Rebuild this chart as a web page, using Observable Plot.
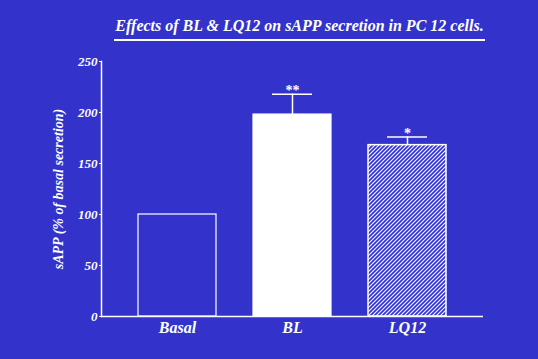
<!DOCTYPE html>
<html><head><meta charset="utf-8">
<script src="https://cdn.jsdelivr.net/npm/d3@7"></script>
<script src="https://cdn.jsdelivr.net/npm/@observablehq/plot@0.6"></script>
<style>
html,body{margin:0;padding:0;background:#3333cc;}
#wrap{position:relative;width:538px;height:359px;overflow:hidden;background:#3333cc;}
#title{position:absolute;left:114px;width:371px;top:15px;text-align:center;color:#fff;font-weight:bold;font-style:italic;font-size:16px;font-family:"Liberation Serif","Times New Roman","DejaVu Serif",serif;border-bottom:2px solid #fff;padding-bottom:3px;line-height:21px;white-space:nowrap}
#chart{position:absolute;left:0;top:0}
#chart svg text{font-family:"Liberation Serif","Times New Roman","DejaVu Serif",serif;}
</style></head><body>
<div id="wrap"><div id="chart"></div><div id="title">Effects of BL &amp; LQ12 on sAPP secretion in PC 12 cells.</div></div>
<script>
const categories = ["Basal", "BL", "LQ12"];
const values = [100, 198, 168];
const errors = [0, 20, 8];
const stars = ["", "**", "*"];
const yTicks = [0, 50, 100, 150, 200, 250];
const yLabel = "sAPP (% of basal secretion)";

const data = categories.map((c, i) => ({category: c, value: values[i], err: errors[i], star: stars[i]}));
const errData = data.filter(d => d.err > 0);
const serif = "'Liberation Serif', 'Times New Roman', 'DejaVu Serif', serif";

const chart = Plot.plot({
  width: 538,
  height: 359,
  marginLeft: 101,
  marginRight: 55,
  marginTop: 61,
  marginBottom: 43,
  style: {background: "transparent", color: "white", fontFamily: serif, fontStyle: "italic", fontWeight: "bold", fontSize: "13px"},
  x: {domain: categories, paddingInner: 0.32, paddingOuter: 0.32},
  y: {domain: [0, 250]},
  marks: [
    Plot.barY(data.filter(d => d.category === "Basal"), {x: "category", y: "value", fill: "none", stroke: "white", strokeWidth: 1.2}),
    Plot.barY(data.filter(d => d.category === "BL"), {x: "category", y: "value", fill: "white", stroke: "white", strokeWidth: 1.2}),
    Plot.barY(data.filter(d => d.category === "LQ12"), {x: "category", y: "value", fill: "url(#hatch)", stroke: "white", strokeWidth: 1.5}),
    Plot.ruleX(errData, {x: "category", y1: "value", y2: d => d.value + d.err, stroke: "white", strokeWidth: 1.5}),
    Plot.tickY(errData, {x: "category", y: d => d.value + d.err, stroke: "white", strokeWidth: 1.5, insetLeft: 19, insetRight: 19}),
    Plot.text(errData, {x: "category", y: d => d.value + d.err, text: "star", dy: 1, lineAnchor: "bottom", fill: "white", fontSize: 14, fontWeight: "bold", fontStyle: "normal"}),
    Plot.ruleY([0], {stroke: "white", strokeWidth: 1.5}),
    Plot.frame({anchor: "left", stroke: "white", strokeWidth: 1.5}),
    Plot.axisY({ticks: yTicks, tickSize: 2, tickPadding: 2, label: yLabel, labelAnchor: "center", labelOffset: 48, labelArrow: "none", fontSize: 13}),
    Plot.axisX({tickSize: 0, tickPadding: 5, label: null, fontSize: 16})
  ]
});

const svg = d3.select(chart);
const defs = svg.insert("defs", ":first-child");
const pat = defs.append("pattern").attr("id", "hatch").attr("patternUnits", "userSpaceOnUse").attr("width", 4).attr("height", 4);
pat.append("rect").attr("width", 4).attr("height", 4).attr("fill", "#3333cc");
pat.append("path").attr("d", "M-1,1 l2,-2 M0,4 l4,-4 M3,5 l2,-2").attr("stroke", "white").attr("stroke-width", 1.1);
svg.selectAll('g[aria-label="y-axis label"] text').attr("font-size", 14);
document.getElementById("chart").appendChild(chart);
</script>
</body></html>
